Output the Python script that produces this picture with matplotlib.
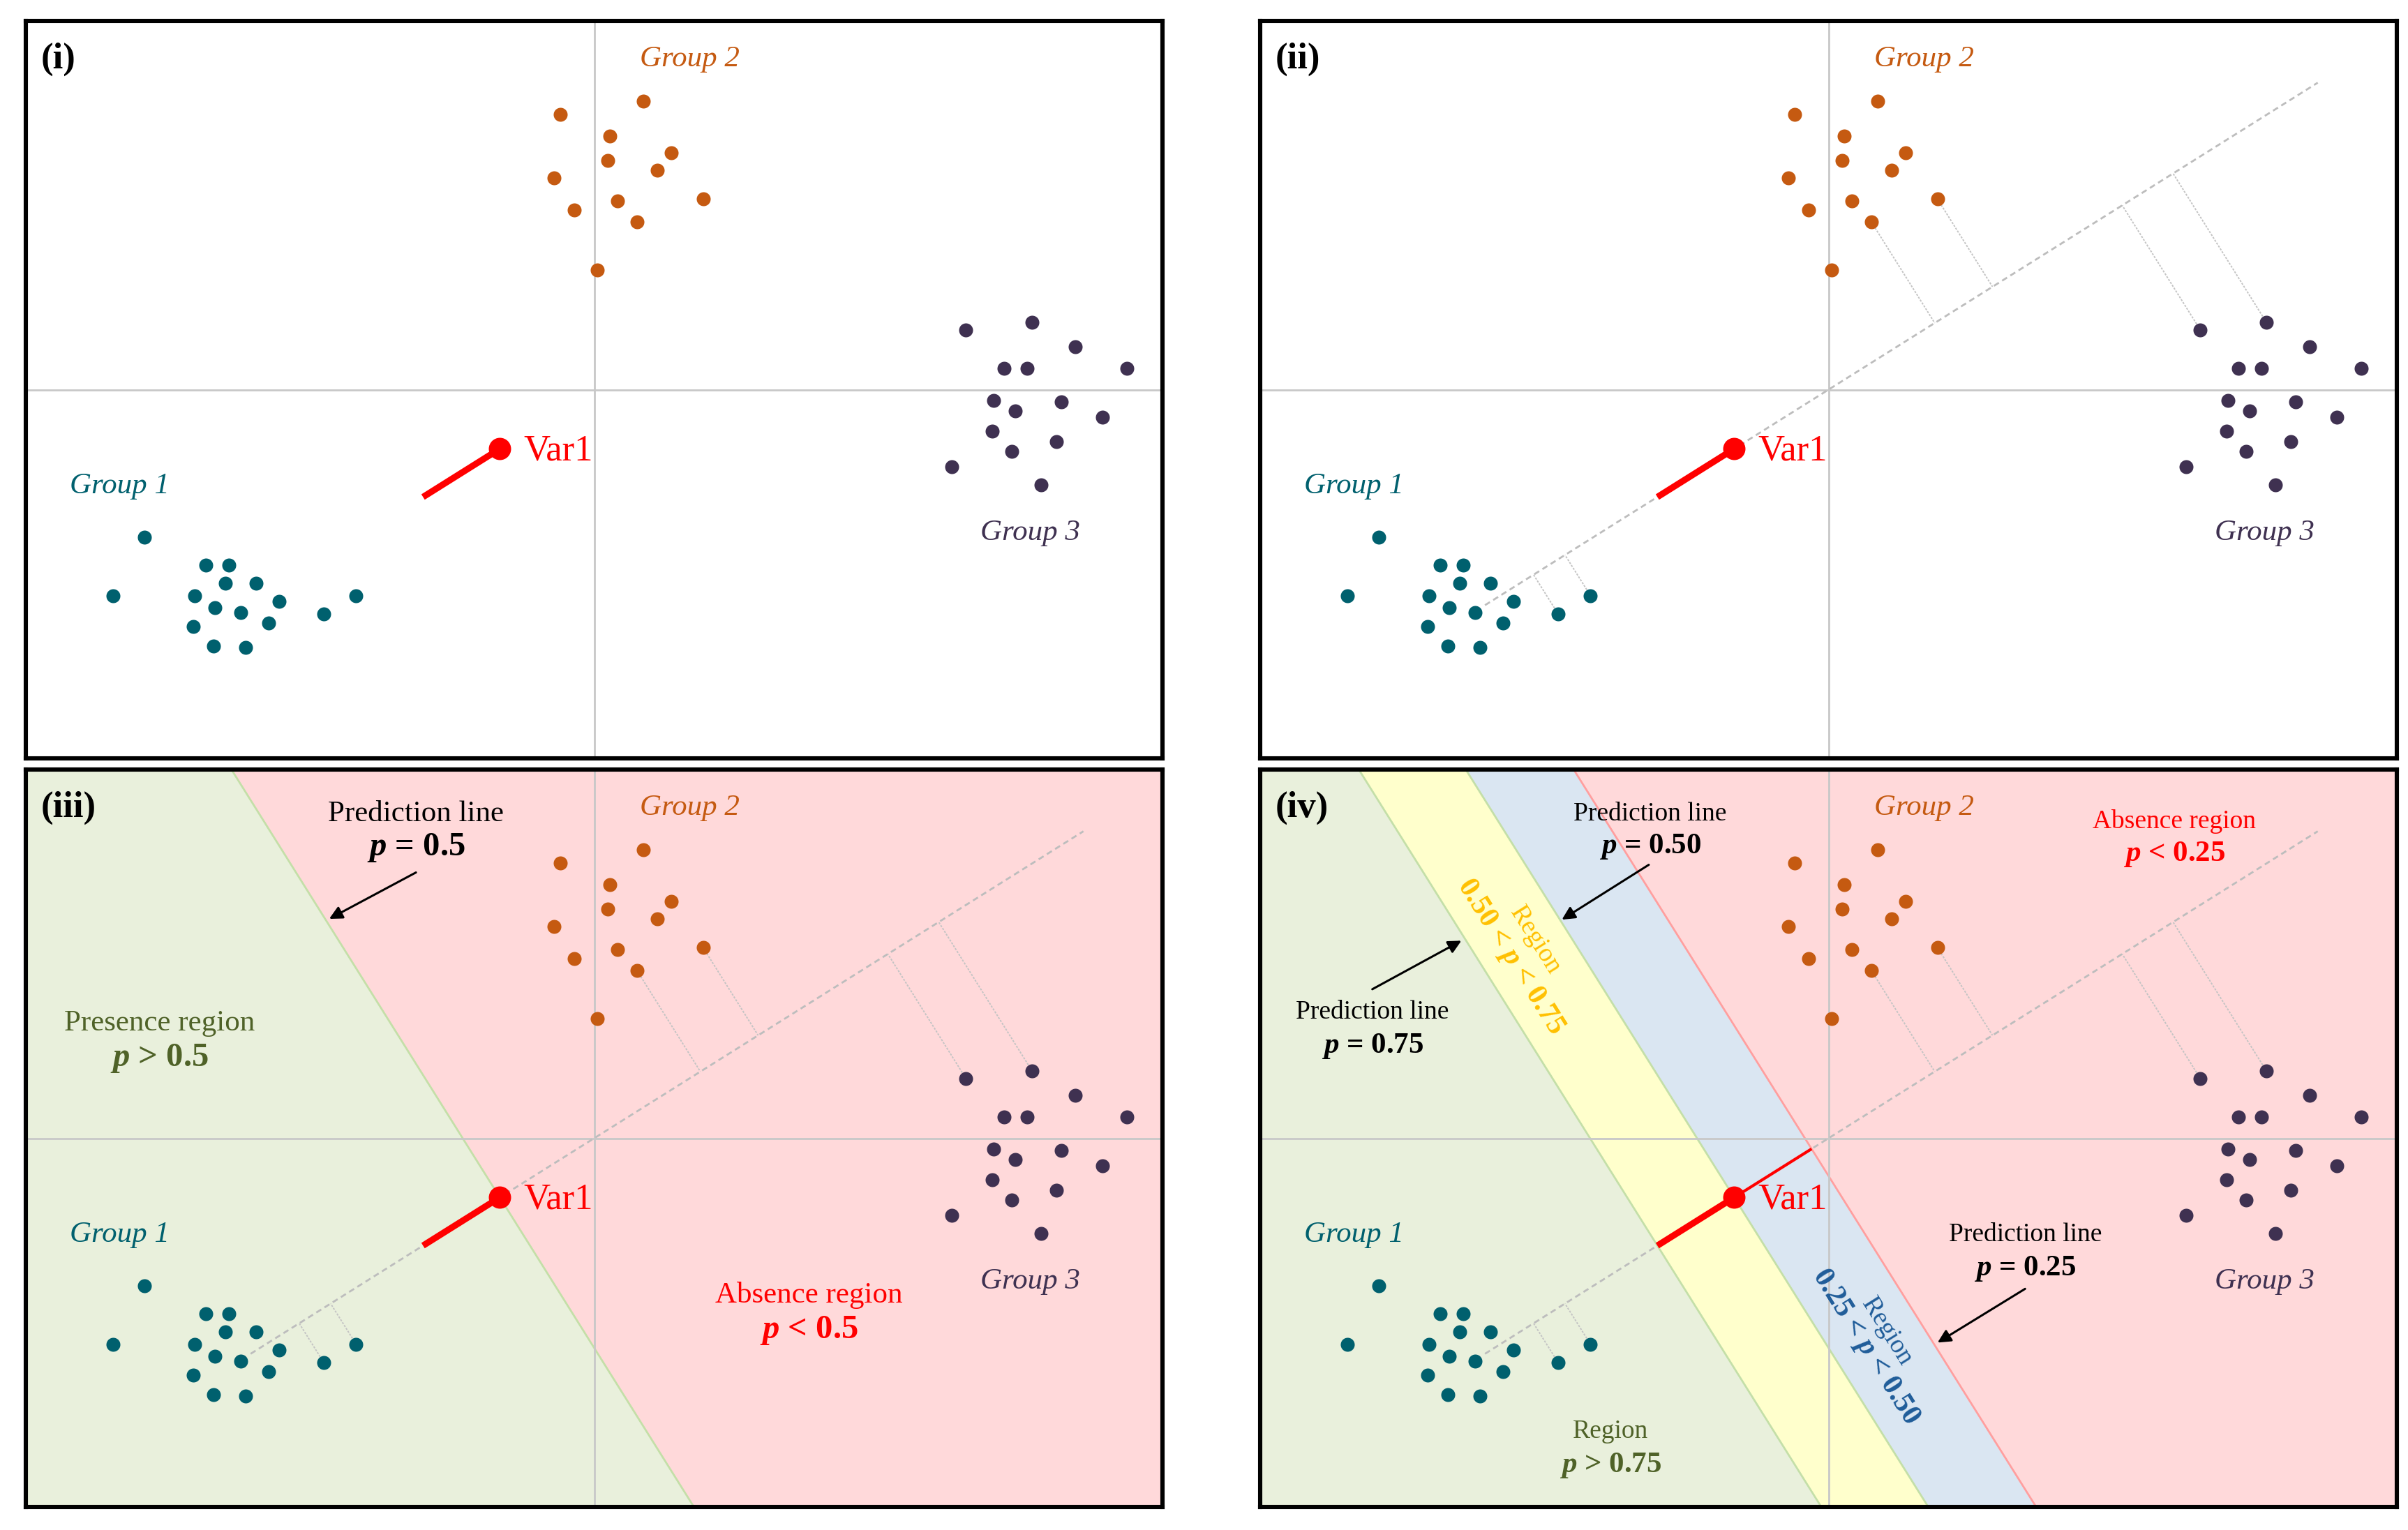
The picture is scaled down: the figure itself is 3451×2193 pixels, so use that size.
import numpy as np
import matplotlib.pyplot as plt
from matplotlib.patches import Polygon

plt.rcParams['font.family'] = ['Liberation Serif', 'DejaVu Serif']
plt.rcParams['mathtext.fontset'] = 'custom'
plt.rcParams['mathtext.it'] = 'Liberation Serif:italic:bold'
plt.rcParams['mathtext.rm'] = 'Liberation Serif:bold'
plt.rcParams['mathtext.bf'] = 'Liberation Serif:bold'

# scores of the three groups (same in every panel)
group1_x = [-293, -253, -238, -240, -220, -313, -260, -155, -205, -247, -230, -176, -261, -212, -248, -227]
group1_y = [-96, -114, -114, -126, -126, -134, -134, -134, -138, -142, -145, -146, -154, -152, -167, -168]
group2_x = [-22, 32, 10, 50, 9, 41, -26, 15, 71, -13, 28, 2]
group2_y = [179, 188, 165, 154, 149, 143, 138, 123, 124, 117, 109, 78]
group3_x = [242, 285, 313, 267, 282, 347, 260, 274, 304, 331, 259, 272, 301, 233, 291]
group3_y = [39, 44, 28, 14, 14, 14, -7, -14, -8, -18, -27, -40, -34, -50, -62]

# points that get a projection line onto the Var1 axis
proj_pts = [(-176, -146), (-155, -134), (28, 109), (71, 124), (242, 39), (285, 44)]

# Var1 direction and positions along it
var1_angle = 32.1
var1_axis = (-264, 376)       # extent of the dashed axis
cut_75, cut_50, cut_25 = -131.5, -72.5, -13.0

teal, orange, purple = '#00606e', '#c55a11', '#3f3151'
c_green, c_pink, c_yellow, c_blue = '#e9f0dc', '#ffd9da', '#ffffcc', '#dae6f2'
dark_green = '#4f6228'

th = np.deg2rad(var1_angle)
d = np.array([np.cos(th), np.sin(th)])
nrm = np.array([-np.sin(th), np.cos(th)])


def along(t, s=0.0):
    return t * d + s * nrm


def band(ax, t0, t1, color):
    pts = [along(t0, -1000), along(t1, -1000), along(t1, 1000), along(t0, 1000)]
    ax.add_patch(Polygon(pts, closed=True, facecolor=color, edgecolor='none', zorder=0))


def cut_line(ax, t, color):
    a, b = along(t, -1000), along(t, 1000)
    ax.plot([a[0], b[0]], [a[1], b[1]], color=color, lw=1.0, zorder=1)


def base(ax, label):
    ax.set_xlim(-370, 370)
    ax.set_ylim(-240, 240)
    ax.set_xticks([])
    ax.set_yticks([])
    for sp in ax.spines.values():
        sp.set_linewidth(2.2)
        sp.set_color('black')
        sp.set_zorder(10)
    ax.axhline(0, color='#c8c8c8', lw=1.0, zorder=1.5)
    ax.axvline(0, color='#c8c8c8', lw=1.0, zorder=1.5)
    ax.scatter(group1_x, group1_y, s=52, color=teal, zorder=4, linewidths=0)
    ax.scatter(group2_x, group2_y, s=52, color=orange, zorder=4, linewidths=0)
    ax.scatter(group3_x, group3_y, s=52, color=purple, zorder=4, linewidths=0)
    ax.text(-360, 215, label, fontsize=19, fontweight='bold', ha='left', va='center', zorder=8)
    ax.text(62, 215, 'Group 2', fontsize=15.5, style='italic', color=orange, ha='center', va='center', zorder=8)
    ax.text(-309, -63, 'Group 1', fontsize=15.5, style='italic', color=teal, ha='center', va='center', zorder=8)
    ax.text(284, -93, 'Group 3', fontsize=15.5, style='italic', color=purple, ha='center', va='center', zorder=8)
    ax.text(-46, -40, 'Var1', fontsize=19, color='red', ha='left', va='center', zorder=8)


def projections(ax):
    a, b = along(var1_axis[0]), along(var1_axis[1])
    ax.plot([a[0], b[0]], [a[1], b[1]], color='#bdbdbd', lw=1.0, ls=(0, (3, 2)), zorder=2)
    for px, py in proj_pts:
        foot = along(px * d[0] + py * d[1])
        ax.plot([px, foot[0]], [py, foot[1]], color='#c4c4c4', lw=0.7, ls=(0, (1.5, 1)), zorder=2)


def var1_arrow(ax, long=False):
    a, b = along(cut_75), along(cut_50)
    if long:
        c = along(cut_25)
        ax.plot([b[0], c[0]], [b[1], c[1]], color='red', lw=1.5, zorder=5, solid_capstyle='butt')
    ax.plot([a[0], b[0]], [a[1], b[1]], color='red', lw=3.3, zorder=5, solid_capstyle='butt')
    ax.plot([b[0]], [b[1]], 'o', color='red', markersize=10.5, zorder=6)


def pointer(ax, tail, head):
    ax.annotate('', xy=head, xytext=tail, zorder=8,
                arrowprops=dict(arrowstyle='-|>', color='black', lw=1.1, mutation_scale=14,
                                shrinkA=0, shrinkB=0))


def two_lines(ax, x, y1, y2, top, bottom, color, size_top=13.5, size_bot=15.5):
    ax.text(x, y1, top, fontsize=size_top, color=color, ha='center', va='center', zorder=8)
    ax.text(x, y2, bottom, fontsize=size_bot, color=color, ha='center', va='center',
            fontweight='bold', zorder=8)


fig = plt.figure(figsize=(17.255, 10.965), dpi=200)
W, H = 3451, 2193
pw, ph = 1629 / W, 1057 / H
lefts = [37 / W, 1806 / W]
bottoms = [1 - 1087 / H, 1 - 2160 / H]

ax1 = fig.add_axes([lefts[0], bottoms[0], pw, ph])
ax2 = fig.add_axes([lefts[1], bottoms[0], pw, ph])
ax3 = fig.add_axes([lefts[0], bottoms[1], pw, ph])
ax4 = fig.add_axes([lefts[1], bottoms[1], pw, ph])

# (i)
base(ax1, '(i)')
var1_arrow(ax1)

# (ii)
base(ax2, '(ii)')
projections(ax2)
var1_arrow(ax2)

# (iii)
band(ax3, -2000, cut_50, c_green)
band(ax3, cut_50, 2000, c_pink)
cut_line(ax3, cut_50, '#c4dfa8')
base(ax3, '(iii)')
projections(ax3)
var1_arrow(ax3)
two_lines(ax3, -116, 211, 189, 'Prediction line', r'$p$ = 0.5', 'black', 15.5, 17.5)
pointer(ax3, (-116, 173), (-172.5, 142.8))
two_lines(ax3, -283, 75, 52, 'Presence region', r'$p$ > 0.5', dark_green, 15.5, 17.5)
two_lines(ax3, 140, -102, -125, 'Absence region', r'$p$ < 0.5', 'red', 15.5, 17.5)

# (iv)
band(ax4, -2000, cut_75, c_green)
band(ax4, cut_75, cut_50, c_yellow)
band(ax4, cut_50, cut_25, c_blue)
band(ax4, cut_25, 2000, c_pink)
cut_line(ax4, cut_75, '#c4dfa8')
cut_line(ax4, cut_50, '#c4dfa8')
cut_line(ax4, cut_25, '#ff9f9f')
base(ax4, '(iv)')
projections(ax4)
var1_arrow(ax4, long=True)
rot = var1_angle - 90
two_lines(ax4, -116, 211, 190, 'Prediction line', r'$p$ = 0.50', 'black')
pointer(ax4, (-117, 178), (-173.6, 142.3))
two_lines(ax4, -297, 82, 60, 'Prediction line', r'$p$ = 0.75', 'black')
pointer(ax4, (-297, 97), (-239, 128.6))
two_lines(ax4, 128, -63, -85, 'Prediction line', r'$p$ = 0.25', 'black')
pointer(ax4, (128, -98), (71, -133))
two_lines(ax4, 225, 206, 185, 'Absence region', r'$p$ < 0.25', 'red')
two_lines(ax4, -142, -191, -213, 'Region', r'$p$ > 0.75', dark_green)
ax4.text(-191, 129, 'Region', fontsize=13.5, color='#ffc000', ha='center', va='center',
         rotation=rot, rotation_mode='anchor', zorder=8)
ax4.text(-207, 118, r'0.50 < $p$ < 0.75', fontsize=15, color='#ffc000', ha='center', va='center',
         fontweight='bold', rotation=rot, rotation_mode='anchor', zorder=8)
ax4.text(38, -126, 'Region', fontsize=13.5, color='#1f5c99', ha='center', va='center',
         rotation=rot, rotation_mode='anchor', zorder=8)
ax4.text(24, -136, r'0.25 < $p$ < 0.50', fontsize=15, color='#1f5c99', ha='center', va='center',
         fontweight='bold', rotation=rot, rotation_mode='anchor', zorder=8)

fig.savefig('out.png', dpi=200)
